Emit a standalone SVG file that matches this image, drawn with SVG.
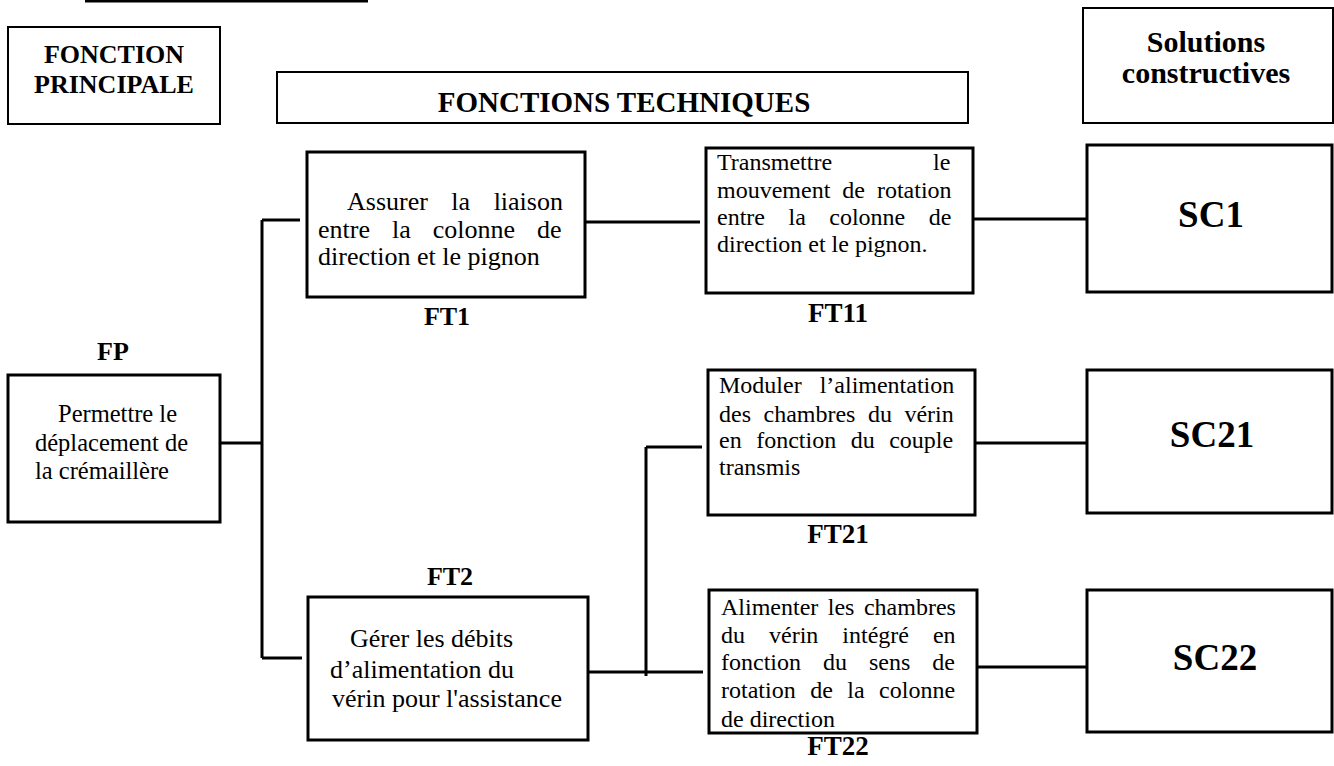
<svg xmlns="http://www.w3.org/2000/svg" width="1334" height="766" viewBox="0 0 1334 766">
<style>
.box{fill:#fff;stroke:#000;stroke-width:3}
.hbox{fill:#fff;stroke:#000;stroke-width:2}
.t{font-family:"Liberation Serif","Times New Roman",serif;fill:#000}
.b{font-family:"Liberation Serif","Times New Roman",serif;font-weight:bold;fill:#000}
.c{stroke:#000;stroke-width:3;fill:none}
</style>
<rect width="1334" height="766" fill="#fff"/>
<line x1="85" y1="1" x2="368" y2="1" stroke="#000" stroke-width="3"/>

<g id="hdr-fp">
<rect class="hbox" x="8" y="27" width="212" height="97"/>
<text class="b" font-size="26" text-anchor="middle" x="114" y="63">FONCTION</text>
<text class="b" font-size="26" text-anchor="middle" x="114" y="93">PRINCIPALE</text>
</g>
<g id="hdr-ft">
<rect class="hbox" x="277" y="72" width="691" height="51"/>
<text class="b" font-size="29" text-anchor="middle" x="624" y="112">FONCTIONS TECHNIQUES</text>
</g>
<g id="hdr-sc">
<rect class="hbox" x="1083" y="8" width="250" height="115"/>
<text class="b" font-size="30" text-anchor="middle" x="1206" y="52">Solutions</text>
<text class="b" font-size="30" text-anchor="middle" x="1206" y="83">constructives</text>
</g>

<g id="connectors">
<path class="c" d="M220 443H262M262 220V658M262 220H300M262 658H302"/>
<path class="c" d="M585 222H700M973 219H1087"/>
<path class="c" d="M588 672H703M646 447V676M646 447H702"/>
<path class="c" d="M975 443H1087M977 667H1087"/>
</g>

<g id="FP">
<text class="b" font-size="26" text-anchor="middle" x="113" y="360">FP</text>
<rect class="box" x="8" y="375" width="212" height="147"/>
<text class="t" font-size="24.5"><tspan x="58" y="422">Permettre le</tspan><tspan x="35" y="451">déplacement de</tspan><tspan x="35" y="479">la crémaillère</tspan></text>
</g>

<g id="FT1">
<rect class="box" x="307" y="152" width="278" height="145"/>
<text class="t" font-size="26" x="347" y="210" word-spacing="17">Assurer la liaison</text>
<text class="t" font-size="26" x="318" y="238" word-spacing="15.5">entre la colonne de</text>
<text class="t" font-size="26" x="318" y="265">direction et le pignon</text>
<text class="b" font-size="26" text-anchor="middle" x="447" y="325">FT1</text>
</g>

<g id="FT2">
<text class="b" font-size="26" text-anchor="middle" x="450" y="585">FT2</text>
<rect class="box" x="308" y="597" width="280" height="143"/>
<text class="t" font-size="26"><tspan x="350" y="647">Gérer les débits</tspan><tspan x="330" y="678">d’alimentation du</tspan><tspan x="332" y="707">vérin pour l'assistance</tspan></text>
</g>

<g id="FT11">
<rect class="box" x="706" y="148" width="267" height="145"/>
<text class="t" font-size="24" x="717" y="170" word-spacing="95">Transmettre le</text>
<text class="t" font-size="24" x="717" y="198" word-spacing="6">mouvement de rotation</text>
<text class="t" font-size="24" x="717" y="225" word-spacing="17.5">entre la colonne de</text>
<text class="t" font-size="24" x="717" y="252">direction et le pignon.</text>
<text class="b" font-size="27" text-anchor="middle" x="838" y="322">FT11</text>
</g>

<g id="FT21">
<rect class="box" x="708" y="370" width="267" height="145"/>
<text class="t" font-size="24" x="719" y="393" word-spacing="12">Moduler l’alimentation</text>
<text class="t" font-size="24" x="719" y="422" word-spacing="6.5">des chambres du vérin</text>
<text class="t" font-size="24" x="719" y="448" word-spacing="8.5">en fonction du couple</text>
<text class="t" font-size="24" x="719" y="475">transmis</text>
<text class="b" font-size="27" text-anchor="middle" x="838" y="543">FT21</text>
</g>

<g id="FT22">
<rect class="box" x="709" y="590" width="268" height="143"/>
<text class="t" font-size="24" x="721" y="615" word-spacing="3.5">Alimenter les chambres</text>
<text class="t" font-size="24" x="721" y="643" word-spacing="18">du vérin intégré en</text>
<text class="t" font-size="24" x="721" y="670" word-spacing="16">fonction du sens de</text>
<text class="t" font-size="24" x="721" y="698" word-spacing="8.5">rotation de la colonne</text>
<text class="t" font-size="24" x="721" y="727">de direction</text>
<text class="b" font-size="27" text-anchor="middle" x="838" y="755">FT22</text>
</g>

<g id="SC1">
<rect class="box" x="1087" y="145" width="245" height="147"/>
<text class="b" font-size="37" text-anchor="middle" x="1211" y="227">SC1</text>
</g>
<g id="SC21">
<rect class="box" x="1087" y="370" width="245" height="143"/>
<text class="b" font-size="37" text-anchor="middle" x="1212" y="447">SC21</text>
</g>
<g id="SC22">
<rect class="box" x="1087" y="590" width="245" height="142"/>
<text class="b" font-size="37" text-anchor="middle" x="1215" y="670">SC22</text>
</g>
</svg>
